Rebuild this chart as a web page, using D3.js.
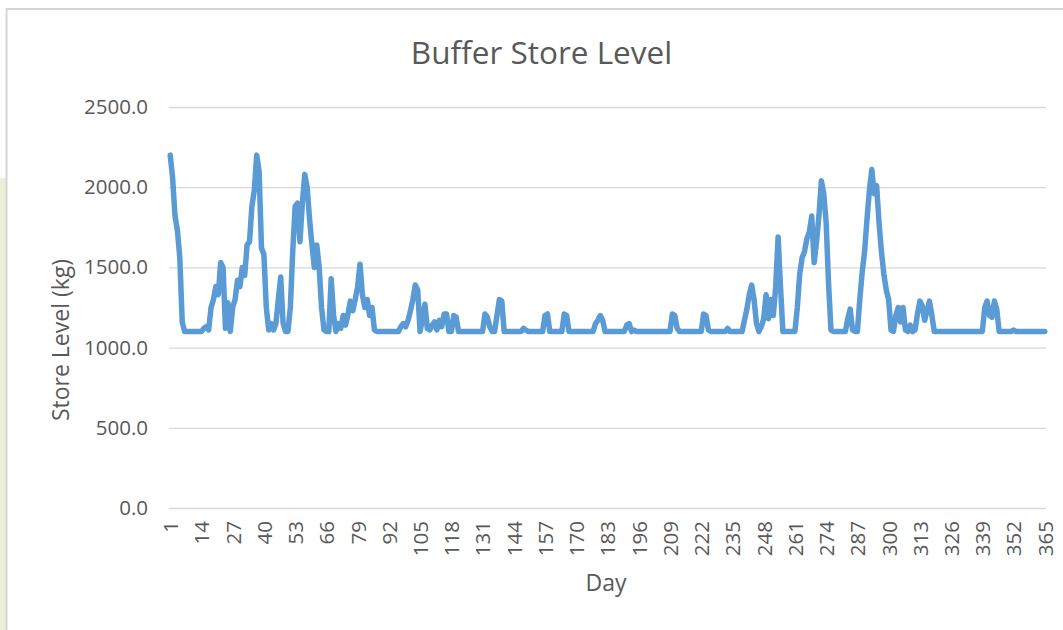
<!DOCTYPE html>
<html><head><meta charset="utf-8">
<script src="https://cdn.jsdelivr.net/npm/d3@7/dist/d3.min.js"></script>
<style>
body{margin:0;background:#fff;}
svg{display:block;font-family:"Open Sans",sans-serif;}
</style>
</head><body>
<svg id="chart" width="1063" height="630"></svg>
<script>
// ---- data ----
const chartTitle = "Buffer Store Level";
const xTitle = "Day";
const yTitle = "Store Level (kg)";
const days = d3.range(1, 366);
const storeLevel = [
  2200,2060,1820,1730,1560,1160,1100,1100,1100,1100,
  1100,1100,1100,1100,1120,1130,1110,1250,1300,1380,
  1330,1530,1500,1120,1280,1100,1250,1300,1420,1380,
  1500,1450,1640,1660,1880,1980,2200,2100,1620,1580,
  1250,1110,1150,1110,1150,1300,1440,1150,1100,1100,
  1250,1600,1880,1900,1660,1900,2080,2000,1800,1640,
  1500,1640,1500,1250,1110,1100,1100,1430,1200,1100,
  1150,1120,1200,1140,1210,1290,1230,1300,1380,1520,
  1330,1250,1300,1200,1250,1110,1100,1100,1100,1100,
  1100,1100,1100,1100,1100,1100,1130,1150,1130,1170,
  1230,1300,1390,1360,1100,1180,1270,1120,1110,1140,
  1160,1110,1170,1130,1210,1210,1100,1100,1200,1190,
  1100,1100,1100,1100,1100,1100,1100,1100,1100,1100,
  1100,1210,1190,1130,1100,1100,1200,1300,1290,1100,
  1100,1100,1100,1100,1100,1100,1100,1120,1110,1100,
  1100,1100,1100,1100,1100,1100,1200,1210,1100,1100,
  1100,1100,1100,1100,1210,1200,1100,1100,1100,1100,
  1100,1100,1100,1100,1100,1100,1100,1150,1170,1200,
  1170,1100,1100,1100,1100,1100,1100,1100,1100,1100,
  1140,1150,1100,1110,1100,1100,1100,1100,1100,1100,
  1100,1100,1100,1100,1100,1100,1100,1100,1100,1210,
  1200,1120,1100,1100,1100,1100,1100,1100,1100,1100,
  1100,1100,1210,1200,1110,1100,1100,1100,1100,1100,
  1100,1100,1120,1100,1100,1100,1100,1100,1100,1170,
  1240,1330,1390,1300,1150,1100,1130,1180,1330,1180,
  1300,1200,1380,1690,1380,1100,1100,1100,1100,1100,
  1100,1250,1460,1560,1600,1680,1720,1820,1530,1660,
  1820,2040,1960,1780,1400,1110,1100,1100,1100,1100,
  1100,1100,1180,1240,1110,1100,1100,1300,1470,1600,
  1800,1980,2110,1960,2010,1780,1600,1460,1360,1300,
  1110,1100,1200,1250,1160,1250,1110,1100,1140,1100,
  1110,1210,1290,1260,1170,1230,1290,1200,1100,1100,
  1100,1100,1100,1100,1100,1100,1100,1100,1100,1100,
  1100,1100,1100,1100,1100,1100,1100,1100,1100,1250,
  1290,1200,1190,1290,1240,1100,1100,1100,1100,1100,
  1100,1110,1100,1100,1100,1100,1100,1100,1100,1100,
  1100,1100,1100,1100,1100
];
const yTickValues = [0, 500, 1000, 1500, 2000, 2500];
const xTickLabels = [1,14,27,40,53,66,79,92,105,118,131,144,157,170,183,196,209,222,235,248,261,274,287,300,313,326,339,352,365];

// ---- layout ----
const W = 1063, H = 630;
const plotLeft = 169, plotRight = 1046, plotTop = 107, plotBottom = 508;
const textColor = "#595959";
const gridColor = "#d9d9d9";

const svg = d3.select("#chart");

// outer decorations
svg.append("rect").attr("x",0).attr("y",0).attr("width",W).attr("height",H).attr("fill","#fff");
svg.append("rect").attr("x",0).attr("y",178).attr("width",6).attr("height",H-178).attr("fill","#ebf0d6");
svg.append("path").attr("d",`M6.5,${H} V9 H${W}`).attr("fill","none").attr("stroke","#d6d6d6").attr("stroke-width",2);

const x = d3.scalePoint().domain(days).range([plotLeft, plotRight]).padding(0.5);
const y = d3.scaleLinear().domain([0, 2500]).range([plotBottom, plotTop]);

// y axis + grid
const yAxis = svg.append("g").attr("transform",`translate(${plotLeft},0)`)
  .call(d3.axisLeft(y).tickValues(yTickValues).tickSize(-(plotRight-plotLeft)).tickPadding(21).tickFormat(d => d.toFixed(1)));
yAxis.select(".domain").remove();
yAxis.selectAll(".tick line").attr("stroke", gridColor).attr("stroke-width",1.3);
yAxis.selectAll(".tick text").attr("fill", textColor).style("font-size","20.5px").style("font-family","'Open Sans',sans-serif");

// x axis
const xAxis = svg.append("g").attr("transform",`translate(0,${plotBottom})`)
  .call(d3.axisBottom(x).tickValues(xTickLabels).tickSize(0));
xAxis.select(".domain").remove();
xAxis.selectAll(".tick text")
  .attr("transform","rotate(-90)")
  .attr("text-anchor","end")
  .attr("x",-13).attr("y",0).attr("dy","0.36em")
  .attr("fill", textColor).style("font-size","20.5px").style("font-family","'Open Sans',sans-serif");

// line
const line = d3.line().x((d,i) => x(days[i])).y(d => y(d));
svg.append("path").datum(storeLevel)
  .attr("d", line).attr("fill","none")
  .attr("stroke","#5b9bd5").attr("stroke-width",5.5)
  .attr("stroke-linejoin","round").attr("stroke-linecap","round");

// titles
svg.append("text").attr("x",541.5).attr("y",64).attr("text-anchor","middle")
  .attr("fill",textColor).style("font-size","31.5px").text(chartTitle);
svg.append("text").attr("x",606).attr("y",591).attr("text-anchor","middle")
  .attr("fill",textColor).style("font-size","23px").text(xTitle);
svg.append("text").attr("transform","translate(69,340) rotate(-90)").attr("text-anchor","middle")
  .attr("fill",textColor).style("font-size","23px").text(yTitle);
</script>
</body></html>
